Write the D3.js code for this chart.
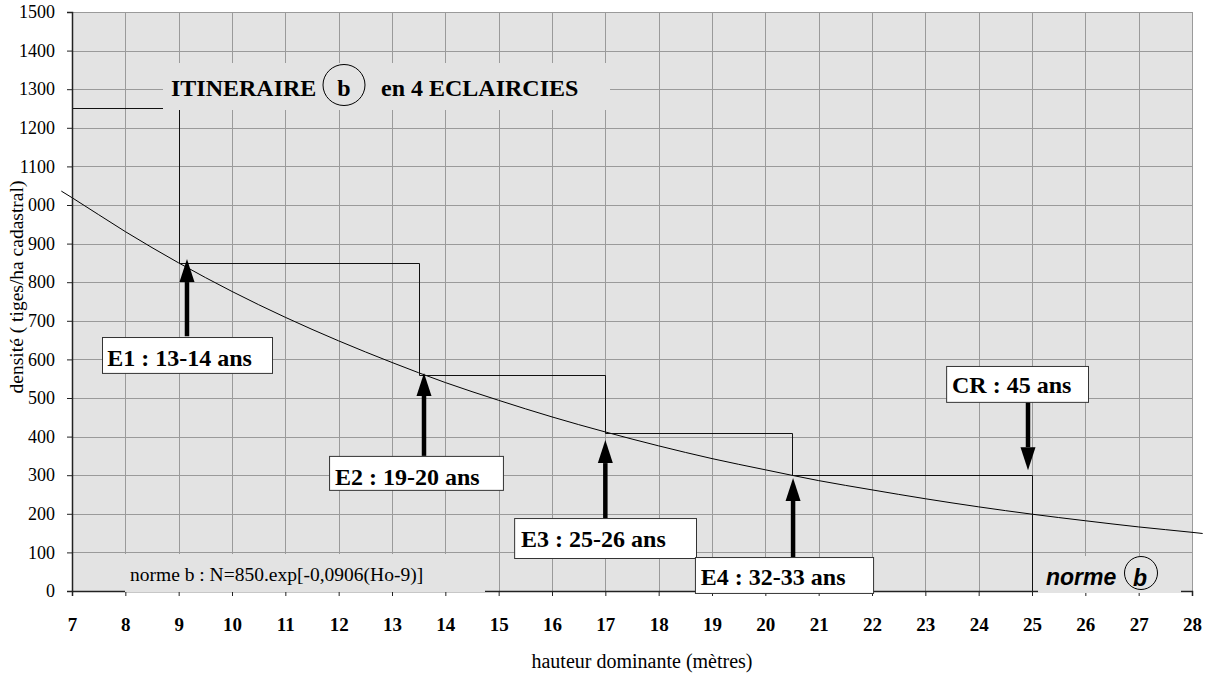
<!DOCTYPE html>
<html>
<head>
<meta charset="utf-8">
<title>Itineraire b</title>
<script src="https://d3js.org/d3.v7.min.js"></script>
<style>
  body {margin: 0; background: #fff;}
  svg {display: block; font-family: "Liberation Serif", "Times New Roman", serif;}
</style>
</head>
<body>
<script>
// axis ticks
const xTicks = d3.range(7, 29);
const yTicks = d3.range(0, 1501, 100);

// norme b curve (hauteur, densite)
const curveHo = [6.8, 7, 8, 9, 10, 11, 12, 13, 14, 15, 16, 17, 18, 19, 20, 21, 22, 23, 24, 25, 26, 27, 28, 28.2];
const curveN  = [1036, 1019, 931, 850, 776, 709, 648, 592, 540, 494, 451, 412, 376, 343, 314, 286, 262, 239, 218, 199, 182, 166, 152, 149];

// itineraire (stair line)
const stepHo = [7, 9, 9, 13.5, 13.5, 17, 17, 20.5, 20.5, 25, 25];
const stepN  = [1250, 1250, 850, 850, 560, 560, 410, 410, 300, 300, 0];

// eclaircies labels
const labels = ["E1 : 13-14 ans", "E2 : 19-20 ans", "E3 : 25-26 ans", "E4 : 32-33 ans", "CR : 45 ans"];

const width = 1208, height = 674;
const margin = {left: 72, right: 16, top: 12, bottom: 83};

const svg = d3.select("body").append("svg")
  .attr("width", width).attr("height", height);

const x = d3.scaleLinear().domain([7, 28]).range([margin.left, width - margin.right]);
const y = d3.scaleLinear().domain([0, 1500]).range([height - margin.bottom, margin.top]);

// plot background
svg.append("rect")
  .attr("x", x(7)).attr("y", y(1500))
  .attr("width", x(28) - x(7)).attr("height", y(0) - y(1500))
  .attr("fill", "#e3e3e3");

// grid
const grid = svg.append("g").attr("stroke", "#9a9a9a").attr("stroke-width", 1);
grid.selectAll("line.v").data(xTicks).join("line")
  .attr("class", "v")
  .attr("x1", d => Math.round(x(d)) + 0.5).attr("x2", d => Math.round(x(d)) + 0.5)
  .attr("y1", y(1500)).attr("y2", y(0));
grid.selectAll("line.h").data(yTicks).join("line")
  .attr("class", "h")
  .attr("x1", x(7)).attr("x2", x(28))
  .attr("y1", d => Math.round(y(d)) + 0.5).attr("y2", d => Math.round(y(d)) + 0.5);

// curve
const line = d3.line().x(d => x(d[0])).y(d => y(d[1])).curve(d3.curveMonotoneX);
svg.append("path")
  .datum(curveHo.map((h, i) => [h, curveN[i]]))
  .attr("d", line)
  .attr("fill", "none").attr("stroke", "#000").attr("stroke-width", 1);

// stair line
svg.append("path")
  .datum(stepHo.map((h, i) => [h, stepN[i]]))
  .attr("d", d3.line().x(d => Math.round(x(d[0])) + 0.5).y(d => Math.round(y(d[1])) + 0.5))
  .attr("fill", "none").attr("stroke", "#111").attr("stroke-width", 1);

// axes
const xAxis = svg.append("g")
  .attr("transform", `translate(0,${y(0)})`)
  .call(d3.axisBottom(x).tickValues(xTicks).tickSize(5).tickPadding(22).tickFormat(d3.format("d")));
xAxis.select(".domain").attr("stroke", "#222").attr("stroke-width", 1.5);
xAxis.selectAll(".tick line").attr("stroke", "#222");
xAxis.selectAll(".tick text")
  .attr("font-family", "Liberation Serif").attr("font-weight", "bold")
  .attr("font-size", 19).attr("fill", "#000");

const yAxis = svg.append("g")
  .attr("transform", `translate(${x(7)},0)`)
  .call(d3.axisLeft(y).tickValues(yTicks).tickSize(5).tickPadding(12).tickFormat(d3.format("d")));
yAxis.select(".domain").attr("stroke", "#222").attr("stroke-width", 1.5);
yAxis.selectAll(".tick line").attr("stroke", "#222");
yAxis.selectAll(".tick text")
  .attr("font-family", "Liberation Serif")
  .attr("font-size", 18).attr("fill", "#000");

// y title (white backing clips the "1" of 1000, as in the original)
svg.append("rect").attr("x", 0).attr("y", 176).attr("width", 28).attr("height", 222).attr("fill", "#fff");
svg.append("text")
  .attr("transform", `translate(23,${287}) rotate(-90)`)
  .attr("text-anchor", "middle")
  .attr("font-size", 19.5)
  .text("densité ( tiges/ha cadastral)");

// x title
svg.append("text")
  .attr("x", 642).attr("y", 668)
  .attr("text-anchor", "middle")
  .attr("font-size", 20)
  .text("hauteur dominante (mètres)");

// title box
svg.append("rect").attr("x", 163).attr("y", 63).attr("width", 447).attr("height", 47).attr("fill", "#e3e3e3");
svg.append("text").attr("x", 171).attr("y", 96)
  .attr("font-size", 24).attr("font-weight", "bold").text("ITINERAIRE");
svg.append("ellipse").attr("cx", 344).attr("cy", 85).attr("rx", 21).attr("ry", 20.5)
  .attr("fill", "none").attr("stroke", "#000").attr("stroke-width", 1);
svg.append("text").attr("x", 344).attr("y", 96).attr("text-anchor", "middle")
  .attr("font-size", 24).attr("font-weight", "bold").text("b");
svg.append("text").attr("x", 381).attr("y", 96)
  .attr("font-size", 24).attr("font-weight", "bold").text("en 4 ECLAIRCIES");

// formula box
svg.append("rect").attr("x", 125).attr("y", 554).attr("width", 360).attr("height", 38).attr("fill", "#e3e3e3");
svg.append("text").attr("x", 130).attr("y", 581)
  .attr("font-size", 19.5).text("norme b : N=850.exp[-0,0906(Ho-9)]");

// norme b box
svg.append("rect").attr("x", 1038).attr("y", 556).attr("width", 143).attr("height", 37).attr("fill", "#e3e3e3");
svg.append("text").attr("x", 1046).attr("y", 585)
  .attr("font-family", "Liberation Sans").attr("font-style", "italic").attr("font-weight", "bold")
  .attr("font-size", 23).text("norme");
svg.append("circle").attr("cx", 1141).attr("cy", 573).attr("r", 16.5)
  .attr("fill", "none").attr("stroke", "#000").attr("stroke-width", 1);
svg.append("text").attr("x", 1140).attr("y", 586).attr("text-anchor", "middle")
  .attr("font-family", "Liberation Sans").attr("font-style", "italic").attr("font-weight", "bold")
  .attr("font-size", 23).text("b");

// annotation layout, in data units (box corners, text anchor, arrow)
const notes = [
  {box: [7.5625, 658, 10.75, 565], tx: 7.66, ty: 583, ax: 9.156, a0: 660, a1: 860},
  {box: [11.82, 350, 15.08, 262],  tx: 11.93, ty: 275, ax: 13.6, a0: 350, a1: 565},
  {box: [15.29, 189, 18.7, 85.5],  tx: 15.42, ty: 114, ax: 17.0, a0: 189, a1: 391},
  {box: [18.68, 88, 22.02, -5],    tx: 18.79, ty: 15.5, ax: 20.52, a0: 88, a1: 293},
  {box: [23.39, 583, 26.05, 490],  tx: 23.5, ty: 513, ax: 24.925, a0: 490, a1: 313}
];

notes.forEach((n, i) => {
  const x0 = x(n.ax), yStart = y(n.a0), yTip = y(n.a1);
  const dir = yTip < yStart ? -1 : 1;
  const headLen = 23, headW = 7.5;
  const yBase = yTip - dir * headLen;
  svg.append("line")
    .attr("x1", x0).attr("x2", x0).attr("y1", yStart).attr("y2", yBase)
    .attr("stroke", "#000").attr("stroke-width", 4.5);
  svg.append("path")
    .attr("d", `M${x0},${yTip} L${x0 - headW},${yBase} L${x0 + headW},${yBase} Z`)
    .attr("fill", "#000");

  svg.append("rect")
    .attr("x", x(n.box[0]) + 0.5).attr("y", y(n.box[1]) + 0.5)
    .attr("width", x(n.box[2]) - x(n.box[0])).attr("height", y(n.box[3]) - y(n.box[1]))
    .attr("fill", "#fff").attr("stroke", "#333").attr("stroke-width", 1);
  svg.append("text")
    .attr("x", x(n.tx)).attr("y", y(n.ty))
    .attr("font-size", 24).attr("font-weight", "bold")
    .text(labels[i]);
});
</script>
</body>
</html>
